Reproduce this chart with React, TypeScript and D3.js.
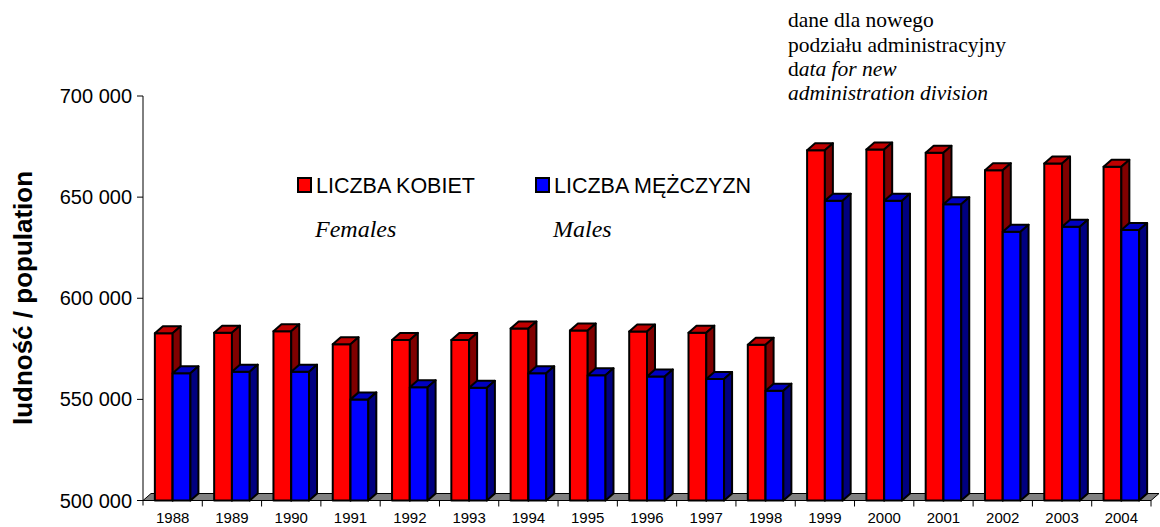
import React from "react";
import { scaleBand, scaleLinear, formatLocale } from "d3";

const years = ["1988", "1989", "1990", "1991", "1992", "1993", "1994", "1995", "1996", "1997", "1998", "1999", "2000", "2001", "2002", "2003", "2004"];
const females = [582700, 583000, 583700, 577200, 579400, 579400, 585000, 584000, 583500, 583000, 577000, 673200, 673500, 671900, 663300, 666600, 665000];
const males = [562900, 563700, 563700, 550000, 556000, 555700, 562900, 561900, 561300, 560100, 554300, 648200, 648200, 646500, 632900, 635300, 633700];
const yTicks = [500000, 550000, 600000, 650000, 700000];

const series = [
  { key: "f", values: females, front: "#ff0000", top: "#c00000", side: "#800000" },
  { key: "m", values: males, front: "#0000ff", top: "#0000c0", side: "#000080" },
];

const W = 1160;
const H = 527;
const DX = 8;
const DY = 7;
const fmt = formatLocale({ decimal: ",", thousands: " ", grouping: [3], currency: ["", ""] }).format(",d");

export default function App() {
  const x = scaleBand().domain(years).range([143, 1151]).padding(0);
  const inner = scaleBand().domain(series.map((s) => s.key)).range([0, x.bandwidth()]).paddingInner(0).paddingOuter(0.667);
  const y = scaleLinear().domain([500000, 700000]).range([500.5, 96]);
  const y0 = y(500000);
  const sans = "Arial, 'Liberation Sans', sans-serif";
  const serif = "'Times New Roman', 'Liberation Serif', serif";

  return (
    <svg width={W} height={H} style={{ position: "absolute", left: 0, top: 0, background: "#fff" }}>
      {/* floor */}
      <polygon
        points={`${x.range()[0]},${y0} ${x.range()[0] + DX},${y0 - DY} ${x.range()[1] + DX},${y0 - DY} ${x.range()[1]},${y0}`}
        fill="#808080"
        stroke="#000"
        strokeWidth={1}
      />
      {/* y axis */}
      <line x1={143} x2={143} y1={y(700000)} y2={y0 + 5} stroke="#000" strokeWidth={1} />
      {yTicks.map((t) => (
        <g key={t}>
          <line x1={137} x2={143} y1={y(t)} y2={y(t)} stroke="#000" strokeWidth={1} />
          <text x={132} y={y(t)} dy="0.35em" textAnchor="end" fontFamily={sans} fontSize={20} fill="#000">
            {fmt(t)}
          </text>
        </g>
      ))}
      {/* x ticks */}
      {years.map((yr, i) => (
        <g key={yr}>
          {i > 0 && <line x1={x(yr)} x2={x(yr)} y1={y0} y2={y0 + 6} stroke="#000" strokeWidth={1} />}
          <text x={(x(yr) as number) + x.bandwidth() / 2} y={523} textAnchor="middle" fontFamily={sans} fontSize={15} fill="#000">
            {yr}
          </text>
        </g>
      ))}
      <line x1={x.range()[1]} x2={x.range()[1]} y1={y0} y2={y0 + 6} stroke="#000" strokeWidth={1} />
      {/* bars */}
      {years.map((yr, i) => (
        <g key={"b" + yr}>
          {series.map((s) => {
            const bx = (x(yr) as number) + (inner(s.key) as number);
            const w = inner.bandwidth();
            const yt = y(s.values[i]);
            return (
              <g key={s.key} stroke="#000" strokeWidth={2} strokeLinejoin="round">
                <rect x={bx} y={yt} width={w} height={y0 - yt} fill={s.front} />
                <polygon points={`${bx},${yt} ${bx + DX},${yt - DY} ${bx + w + DX},${yt - DY} ${bx + w},${yt}`} fill={s.top} />
                <polygon points={`${bx + w},${yt} ${bx + w + DX},${yt - DY} ${bx + w + DX},${y0 - DY} ${bx + w},${y0}`} fill={s.side} />
              </g>
            );
          })}
        </g>
      ))}
      {/* y title */}
      <text transform="translate(32,298) rotate(-90)" textAnchor="middle" fontFamily={sans} fontWeight="bold" fontSize={26} fill="#000">
        ludność / population
      </text>
      {/* legend */}
      <rect x={298} y={178} width={13} height={14} fill="#ff0000" stroke="#000" strokeWidth={2} />
      <text x={316} y={193} fontFamily={sans} fontSize={21.5} fill="#000">LICZBA KOBIET</text>
      <rect x={536} y={178} width={13} height={14} fill="#0000ff" stroke="#000" strokeWidth={2} />
      <text x={554} y={193} fontFamily={sans} fontSize={21.5} fill="#000">LICZBA MĘŻCZYZN</text>
      <text x={315} y={237} fontFamily={serif} fontStyle="italic" fontSize={24} fill="#000">Females</text>
      <text x={553} y={237} fontFamily={serif} fontStyle="italic" fontSize={24} fill="#000">Males</text>
      {/* annotation */}
      <g fontFamily={serif} fontSize={21.5} fill="#000">
        <text x={788} y={27}>dane dla nowego</text>
        <text x={788} y={51.5}>podziału administracyjny</text>
        <text x={788} y={75.5}>
          d<tspan fontStyle="italic">ata for new</tspan>
        </text>
        <text x={788} y={99.5} fontStyle="italic">administration division</text>
      </g>
    </svg>
  );
}
